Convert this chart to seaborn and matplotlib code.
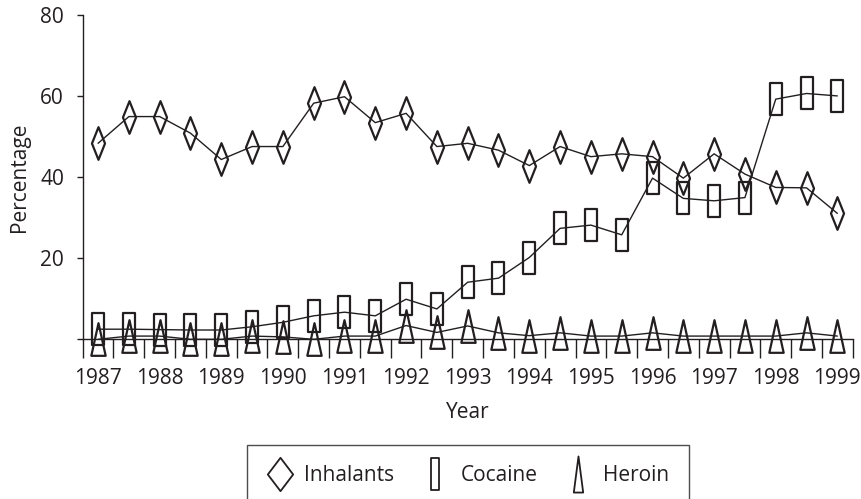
import numpy as np
import seaborn as sns
import matplotlib.pyplot as plt
from matplotlib.path import Path
from matplotlib.lines import Line2D
from matplotlib.ticker import MultipleLocator, FixedLocator

# Drug use percentages, half-year points 1987-1999
years = [1987 + 0.5 * i for i in range(25)]
inhalants = [48.4, 55.0, 55.0, 50.9, 44.4, 47.6, 47.6, 58.3, 59.9, 53.5, 55.8, 47.6,
             48.4, 46.7, 42.9, 47.6, 45.1, 45.8, 45.1, 39.8, 45.8, 40.8, 37.5, 37.4, 31.1]
cocaine = [2.5, 2.5, 2.4, 2.3, 2.3, 3.1, 4.2, 5.8, 6.7, 5.8, 9.9, 7.5,
           14.1, 15.1, 20.2, 27.4, 28.2, 25.8, 39.8, 34.8, 34.2, 35.0, 59.3, 60.7, 60.1]
heroin = [0.0, 0.8, 0.8, 0.0, 0.0, 0.8, 0.6, 0.0, 0.8, 0.8, 3.4, 1.7,
          3.3, 1.6, 0.9, 1.6, 0.8, 0.8, 1.6, 0.8, 0.8, 0.8, 0.8, 1.6, 0.8]
series_names = ['Inhalants', 'Cocaine', 'Heroin']
year_labels = [str(y) for y in range(1987, 2000)]

sns.set_style('ticks')
plt.rcParams['font.family'] = ['Open Sans', 'DejaVu Sans']

ink = '#231f20'
fs = 15


def diamond(w):
    return Path([(0, 1), (w, 0), (0, -1), (-w, 0), (0, 1)], closed=True)


def rect(w):
    return Path([(-w, -1), (w, -1), (w, 1), (-w, 1), (-w, -1)], closed=True)


def tri(w):
    return Path([(0, 1), (w, -1), (-w, -1), (0, 1)], closed=True)


plot_markers = [diamond(0.40), rect(0.38), tri(0.44)]
legend_markers = [diamond(0.76), rect(0.25), tri(0.26)]

fig = plt.figure(figsize=(8.61, 4.99), dpi=100)
ax = fig.add_axes([0.0960, 0.3200, 0.8944, 0.6493])

for vals, mk in zip([inhalants, cocaine, heroin], plot_markers):
    sns.lineplot(x=years, y=vals, ax=ax, color=ink, linewidth=1.0,
                 marker=mk, markersize=23.5, markerfacecolor='none',
                 markeredgecolor=ink, markeredgewidth=1.6, clip_on=False)

ax.set_xlim(1986.75, 1999.25)
ax.set_ylim(0, 80)
ax.xaxis.set_major_locator(FixedLocator(list(range(1987, 2000))))
ax.set_xticklabels(year_labels)
ax.xaxis.set_minor_locator(MultipleLocator(0.5, offset=0.25))
ax.tick_params(axis='x', which='major', length=0, pad=21, labelsize=fs, colors=ink)
ax.tick_params(axis='x', which='minor', length=14, width=1, direction='out', color=ink)
ax.set_yticks([0, 20, 40, 60, 80])
ax.set_yticklabels(['', '20', '40', '60', '80'])
ax.tick_params(axis='y', length=4.5, width=1, pad=9, labelsize=fs, colors=ink)

for s in ['top', 'right']:
    ax.spines[s].set_visible(False)
for s in ['left', 'bottom']:
    ax.spines[s].set_color(ink)
    ax.spines[s].set_linewidth(1)

ax.set_xlabel('Year', fontsize=fs, color=ink, labelpad=9)
ax.set_ylabel('Percentage', fontsize=fs, color=ink, labelpad=7)

handles = [Line2D([], [], linestyle='none', marker=m, markersize=s,
                  markerfacecolor='none', markeredgecolor=ink, markeredgewidth=1.3)
           for m, s in zip(legend_markers, [24, 23, 26])]
leg = fig.legend(handles, series_names, loc='upper center',
                 bbox_to_anchor=(468 / 861, 1 - 445 / 499), ncol=3, fontsize=fs,
                 frameon=True, fancybox=False, edgecolor=ink, handlelength=1.2,
                 handletextpad=0.6, columnspacing=1.35, borderpad=0.95,
                 borderaxespad=0)
leg.get_frame().set_linewidth(1)
for t in leg.get_texts():
    t.set_color(ink)

fig.savefig('out.png', dpi=100)
